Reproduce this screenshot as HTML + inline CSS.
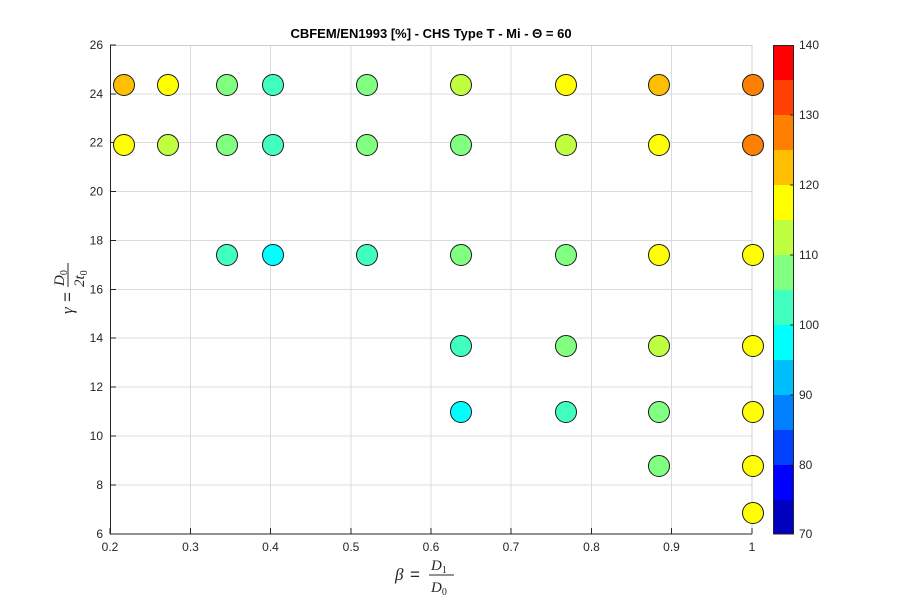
<!DOCTYPE html>
<html><head><meta charset="utf-8"><style>
body{margin:0;background:#fff}
svg text{font-family:"Liberation Sans",sans-serif}
.m{font-family:"Liberation Serif",serif;font-style:italic}
</style></head><body>
<svg width="900" height="600" viewBox="0 0 900 600" xmlns="http://www.w3.org/2000/svg">
<rect width="900" height="600" fill="#fff"/>
<g stroke="#dcdcdc" stroke-width="1">
<line x1="190.5" y1="45" x2="190.5" y2="534"/><line x1="270.5" y1="45" x2="270.5" y2="534"/>
<line x1="351" y1="45" x2="351" y2="534"/><line x1="431" y1="45" x2="431" y2="534"/>
<line x1="511" y1="45" x2="511" y2="534"/><line x1="591.5" y1="45" x2="591.5" y2="534"/>
<line x1="671.5" y1="45" x2="671.5" y2="534"/>
<line x1="110" y1="485" x2="752" y2="485"/>
<line x1="110" y1="436" x2="752" y2="436"/>
<line x1="110" y1="387" x2="752" y2="387"/>
<line x1="110" y1="338" x2="752" y2="338"/>
<line x1="110" y1="289.5" x2="752" y2="289.5"/>
<line x1="110" y1="240.5" x2="752" y2="240.5"/>
<line x1="110" y1="191.5" x2="752" y2="191.5"/>
<line x1="110" y1="142.5" x2="752" y2="142.5"/>
<line x1="110" y1="94" x2="752" y2="94"/>
</g>
<g stroke="#d0d0d0"><line x1="110" y1="45.5" x2="752" y2="45.5"/><line x1="752" y1="45" x2="752" y2="534"/></g>
<g stroke="#262626" stroke-width="1">
<line x1="110" y1="534" x2="752" y2="534"/><line x1="110.5" y1="45" x2="110.5" y2="534"/>
</g>
<g stroke="#262626">
<line x1="110" y1="534" x2="110" y2="528"/><line x1="190.5" y1="534" x2="190.5" y2="528"/><line x1="270.5" y1="534" x2="270.5" y2="528"/><line x1="351" y1="534" x2="351" y2="528"/><line x1="431" y1="534" x2="431" y2="528"/><line x1="511" y1="534" x2="511" y2="528"/><line x1="591.5" y1="534" x2="591.5" y2="528"/><line x1="671.5" y1="534" x2="671.5" y2="528"/><line x1="752" y1="534" x2="752" y2="528"/>
<line x1="110" y1="534" x2="116" y2="534"/><line x1="110" y1="485" x2="116" y2="485"/><line x1="110" y1="436" x2="116" y2="436"/><line x1="110" y1="387" x2="116" y2="387"/><line x1="110" y1="338" x2="116" y2="338"/><line x1="110" y1="289.5" x2="116" y2="289.5"/><line x1="110" y1="240.5" x2="116" y2="240.5"/><line x1="110" y1="191.5" x2="116" y2="191.5"/><line x1="110" y1="142.5" x2="116" y2="142.5"/><line x1="110" y1="94" x2="116" y2="94"/><line x1="110" y1="45" x2="116" y2="45"/>
</g>
<g font-size="12" fill="#262626" text-anchor="middle">
<text x="110" y="551">0.2</text><text x="190.5" y="551">0.3</text><text x="270.5" y="551">0.4</text><text x="351" y="551">0.5</text><text x="431" y="551">0.6</text><text x="511" y="551">0.7</text><text x="591.5" y="551">0.8</text><text x="671.5" y="551">0.9</text><text x="752" y="551">1</text>
</g>
<g font-size="12" fill="#262626" text-anchor="end">
<text x="103" y="538">6</text><text x="103" y="489">8</text><text x="103" y="440">10</text><text x="103" y="391">12</text><text x="103" y="342">14</text><text x="103" y="293.5">16</text><text x="103" y="244.5">18</text><text x="103" y="195.5">20</text><text x="103" y="146.5">22</text><text x="103" y="98">24</text><text x="103" y="49">26</text>
</g>
<text x="431" y="38" font-size="13" font-weight="bold" text-anchor="middle" fill="#000">CBFEM/EN1993 [%] - CHS Type T - Mi - Θ = 60</text>
<g fill="#262626" font-size="17">
<text class="m" x="395" y="580">β</text><text x="410" y="580" font-family="Liberation Serif">=</text>
<text class="m" x="431" y="570" font-size="15">D<tspan font-size="10" font-style="normal" dy="3">1</tspan></text>
<line x1="429" y1="575" x2="454" y2="575" stroke="#262626"/>
<text class="m" x="431" y="592" font-size="15">D<tspan font-size="10" font-style="normal" dy="3">0</tspan></text>
</g>
<g fill="#262626" transform="translate(68,290) rotate(-90)">
<text class="m" x="-24" y="5" font-size="17">γ</text><text x="-12" y="5" font-size="17" font-family="Liberation Serif">=</text>
<text class="m" x="4" y="-4" font-size="15">D<tspan font-size="10" font-style="normal" dy="3">0</tspan></text>
<line x1="3" y1="0" x2="27" y2="0" stroke="#262626"/>
<text class="m" x="3" y="16" font-size="15">2t<tspan font-size="10" font-style="normal" dy="3">0</tspan></text>
</g>
<g>
<rect x="773" y="45" width="21" height="35" fill="#FF0000"/>
<rect x="773" y="80" width="21" height="35" fill="#FF4000"/>
<rect x="773" y="115" width="21" height="35" fill="#FF8000"/>
<rect x="773" y="150" width="21" height="35" fill="#FFBF00"/>
<rect x="773" y="185" width="21" height="35" fill="#FFFF00"/>
<rect x="773" y="220" width="21" height="35" fill="#BFFF40"/>
<rect x="773" y="255" width="21" height="35" fill="#80FF80"/>
<rect x="773" y="290" width="21" height="35" fill="#40FFBF"/>
<rect x="773" y="325" width="21" height="35" fill="#00FFFF"/>
<rect x="773" y="360" width="21" height="35" fill="#00BFFF"/>
<rect x="773" y="395" width="21" height="35" fill="#0080FF"/>
<rect x="773" y="430" width="21" height="35" fill="#0040FF"/>
<rect x="773" y="465" width="21" height="35" fill="#0000FF"/>
<rect x="773" y="500" width="21" height="34" fill="#0000BF"/>
<rect x="773.5" y="45.5" width="20" height="488.5" fill="none" stroke="#262626"/>
<g stroke="#262626"><line x1="790" y1="115" x2="794" y2="115"/><line x1="790" y1="185" x2="794" y2="185"/><line x1="790" y1="255" x2="794" y2="255"/><line x1="790" y1="325" x2="794" y2="325"/><line x1="790" y1="395" x2="794" y2="395"/><line x1="790" y1="465" x2="794" y2="465"/></g>
<g font-size="12" fill="#262626">
<text x="799" y="49">140</text><text x="799" y="119">130</text><text x="799" y="189">120</text><text x="799" y="259">110</text><text x="799" y="329">100</text><text x="799" y="399">90</text><text x="799" y="469">80</text><text x="799" y="538">70</text>
</g>
</g>
<g stroke="#1a1a1a" stroke-width="1">
<circle cx="124" cy="85" r="10.5" fill="#FFBF00"/>
<circle cx="168" cy="85" r="10.5" fill="#FFFF00"/>
<circle cx="227" cy="85" r="10.5" fill="#80FF80"/>
<circle cx="273" cy="85" r="10.5" fill="#40FFBF"/>
<circle cx="367" cy="85" r="10.5" fill="#80FF80"/>
<circle cx="461" cy="85" r="10.5" fill="#BFFF40"/>
<circle cx="566" cy="85" r="10.5" fill="#FFFF00"/>
<circle cx="659" cy="85" r="10.5" fill="#FFBF00"/>
<circle cx="753" cy="85" r="10.5" fill="#FF8000"/>
<circle cx="124" cy="145" r="10.5" fill="#FFFF00"/>
<circle cx="168" cy="145" r="10.5" fill="#BFFF40"/>
<circle cx="227" cy="145" r="10.5" fill="#80FF80"/>
<circle cx="273" cy="145" r="10.5" fill="#40FFBF"/>
<circle cx="367" cy="145" r="10.5" fill="#80FF80"/>
<circle cx="461" cy="145" r="10.5" fill="#80FF80"/>
<circle cx="566" cy="145" r="10.5" fill="#BFFF40"/>
<circle cx="659" cy="145" r="10.5" fill="#FFFF00"/>
<circle cx="753" cy="145" r="10.5" fill="#FF8000"/>
<circle cx="227" cy="255" r="10.5" fill="#40FFBF"/>
<circle cx="273" cy="255" r="10.5" fill="#00FFFF"/>
<circle cx="367" cy="255" r="10.5" fill="#40FFBF"/>
<circle cx="461" cy="255" r="10.5" fill="#80FF80"/>
<circle cx="566" cy="255" r="10.5" fill="#80FF80"/>
<circle cx="659" cy="255" r="10.5" fill="#FFFF00"/>
<circle cx="753" cy="255" r="10.5" fill="#FFFF00"/>
<circle cx="461" cy="346" r="10.5" fill="#40FFBF"/>
<circle cx="566" cy="346" r="10.5" fill="#80FF80"/>
<circle cx="659" cy="346" r="10.5" fill="#BFFF40"/>
<circle cx="753" cy="346" r="10.5" fill="#FFFF00"/>
<circle cx="461" cy="412" r="10.5" fill="#00FFFF"/>
<circle cx="566" cy="412" r="10.5" fill="#40FFBF"/>
<circle cx="659" cy="412" r="10.5" fill="#80FF80"/>
<circle cx="753" cy="412" r="10.5" fill="#FFFF00"/>
<circle cx="659" cy="466" r="10.5" fill="#80FF80"/>
<circle cx="753" cy="466" r="10.5" fill="#FFFF00"/>
<circle cx="753" cy="513" r="10.5" fill="#FFFF00"/>
</g>
</svg>
</body></html>
